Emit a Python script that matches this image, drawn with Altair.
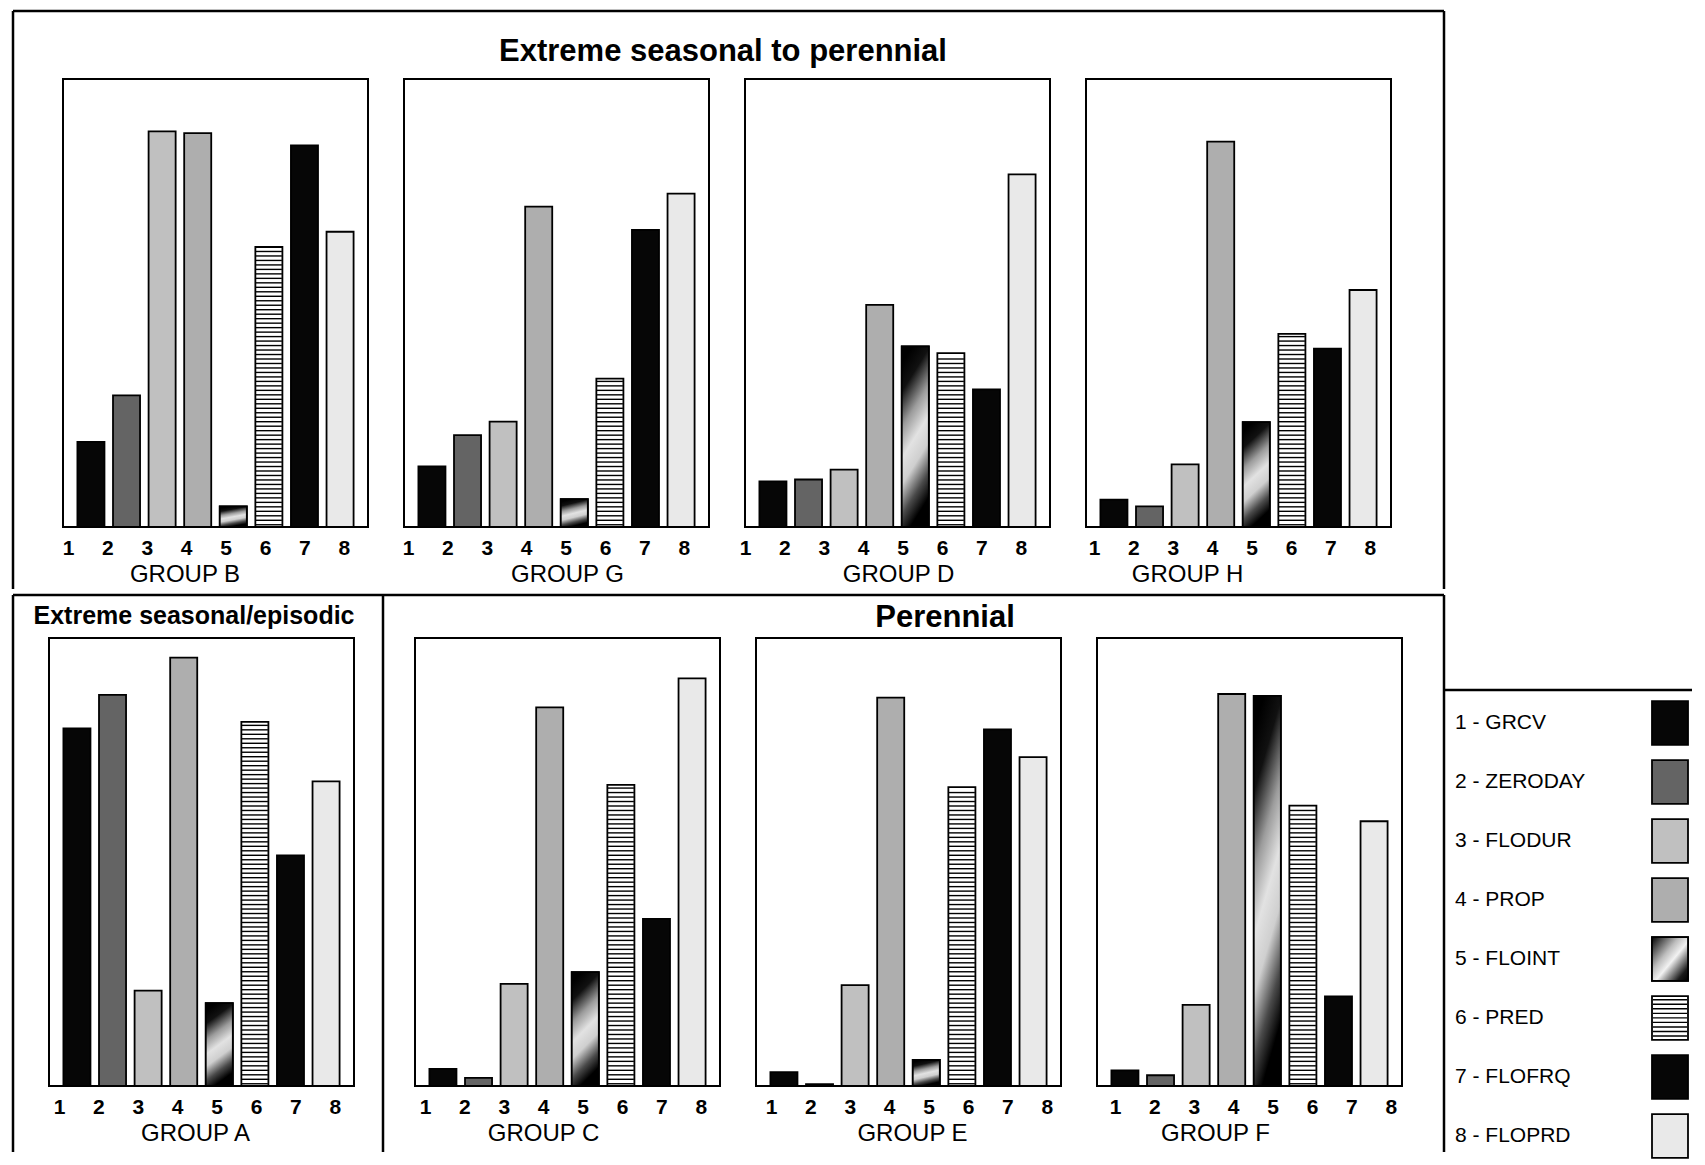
import altair as alt
import pandas as pd

FONT = "Liberation Sans"

# ---------------- data ----------------
codes = [1, 2, 3, 4, 5, 6, 7, 8]
names = ["GRCV", "ZERODAY", "FLODUR", "PROP", "FLOINT", "PRED", "FLOFRQ", "FLOPRD"]

group_B = [19.0, 29.4, 88.3, 87.9, 4.6, 62.5, 85.2, 65.9]
group_G = [13.5, 20.5, 23.5, 71.5, 6.2, 33.1, 66.3, 74.4]
group_D = [10.2, 10.6, 12.8, 49.6, 40.3, 38.8, 30.7, 78.7]
group_H = [6.1, 4.6, 14.0, 86.0, 23.4, 43.1, 39.8, 52.9]
group_A = [79.8, 87.3, 21.3, 95.6, 18.5, 81.3, 51.5, 68.0]
group_C = [3.8, 1.8, 22.8, 84.5, 25.4, 67.2, 37.3, 91.0]
group_E = [3.1, 0.4, 22.5, 86.7, 5.8, 66.7, 79.6, 73.4]
group_F = [3.5, 2.4, 18.1, 87.5, 87.1, 62.6, 20.0, 59.1]

title_top = "Extreme seasonal to perennial"
title_episodic = "Extreme seasonal/episodic"
title_perennial = "Perennial"

# ---------------- styles ----------------
tones = ["#060606", "#646464", "#c0c0c0", "#aeaeae", "#303030", "#ffffff", "#060606", "#e9e9e9"]
floint_fill = alt.LinearGradient(
    gradient="linear",
    stops=[
        alt.GradientStop(color="#000000", offset=0),
        alt.GradientStop(color="#111111", offset=0.15),
        alt.GradientStop(color="#9c9c9c", offset=0.34),
        alt.GradientStop(color="#e2e2e2", offset=0.5),
        alt.GradientStop(color="#cfcfcf", offset=0.64),
        alt.GradientStop(color="#4a4a4a", offset=0.8),
        alt.GradientStop(color="#000000", offset=0.93),
        alt.GradientStop(color="#000000", offset=1),
    ],
    x1=0.38, y1=0, x2=0.62, y2=1,
)
STROKE_W = 1.8
STRIPE_STEP = 1.0      # spacing of the horizontal PRED hatching, in value units

W, H = 305, 448
LBL_STEP = 39.4
code_str = [str(c) for c in codes]
fill_scale = alt.Scale(domain=names, range=tones)
one = pd.DataFrame({"k": [0]})
NOFRAME = alt.ViewBackground(stroke="transparent")


def panel(letter, values, lbl_start, title_x):
    df = pd.DataFrame({"code": code_str, "num": codes, "name": names, "value": values})
    base = alt.Chart(df)
    xb = alt.X("code:N", sort=code_str,
               scale=alt.Scale(domain=code_str, paddingInner=0.24, paddingOuter=0.405),
               axis=None)
    yscale = alt.Scale(domain=[0, 100], nice=False, zero=True)
    yv = alt.Y("value:Q", scale=yscale, axis=None)
    bars = base.mark_bar(stroke="black", strokeWidth=STROKE_W).encode(
        x=xb, y=yv, fill=alt.Fill("name:N", scale=fill_scale, legend=None))
    floint = base.transform_filter(alt.datum.name == "FLOINT").mark_bar(
        fill=floint_fill, stroke="black", strokeWidth=STROKE_W).encode(x=xb, y=yv)
    # horizontal hatching of PRED bars
    pred_val = values[names.index("PRED")]
    stripes = []
    k = 0
    while (k + 0.5) * STRIPE_STEP < pred_val - 0.4:
        stripes.append({"code": code_str[names.index("PRED")], "sy": (k + 0.5) * STRIPE_STEP})
        k += 1
    hatch = alt.Chart(pd.DataFrame(stripes)).mark_tick(
        orient="horizontal", size=26, thickness=1.4, color="black", opacity=1).encode(
        x=xb, y=alt.Y("sy:Q", scale=yscale, axis=None))
    d0 = 1 - lbl_start / LBL_STEP
    d1 = d0 + W / LBL_STEP
    labels = base.mark_point(opacity=0).encode(
        x=alt.X("num:Q", scale=alt.Scale(domain=[d0, d1], nice=False, zero=False),
                axis=alt.Axis(orient="bottom", values=codes, format="d", grid=False,
                              ticks=False, domain=False, labelFontSize=21,
                              labelFontWeight="bold", labelColor="black",
                              labelPadding=10, labelFlush=False, labelOverlap=False,
                              labelFont=FONT,
                              title=f"GROUP {letter}", titleFontSize=24,
                              titleFontWeight="normal", titleColor="black",
                              titleFont=FONT, titleX=title_x, titleY=47,
                              titleBaseline="middle", titleAlign="center")),
        y=yv)
    return alt.layer(alt.layer(bars, floint, hatch), labels).resolve_scale(
        x="independent").properties(width=W, height=H)


def gap(w):
    return alt.Chart(one).mark_point(opacity=0).encode(
        x=alt.value(0), y=alt.value(0)).properties(width=w, height=H, view=NOFRAME)


def seg(x1, y1, x2, y2):
    return alt.Chart(one).mark_rule(stroke="black", strokeWidth=2.5).encode(
        x=alt.value(x1), y=alt.value(y1), x2=alt.value(x2), y2=alt.value(y2))


def head(txt, x, y, size):
    return alt.Chart(one).mark_text(text=txt, fontSize=size, fontWeight="bold", font=FONT,
                                    align="center", baseline="alphabetic", color="black").encode(
        x=alt.value(x), y=alt.value(y))


pB = panel("B", group_B, 5, 121.5)
pG = panel("G", group_G, 4, 163)
pD = panel("D", group_D, 0, 153)
pH = panel("H", group_H, 8, 101)
pA = panel("A", group_A, 10, 146)
pC = panel("C", group_C, 10, 128)
pE = panel("E", group_E, 15, 156)
pF = panel("F", group_F, 18, 118)

# frame of the upper block + its heading (relative to this cell's origin)
deco_top = alt.layer(
    seg(-36, -68, 1395, -68),
    seg(-36, -68, -36, 510),
    seg(1395, -68, 1395, 510),
    head(title_top, 674, -18, 31),
).properties(width=14, height=H, view=NOFRAME)

# frames of the lower blocks + their headings (relative to this cell's origin)
deco_bottom = alt.layer(
    seg(-341, -43, 1090, -43),
    seg(-341, -43, -341, 514),
    seg(29, -43, 29, 514),
    seg(1090, -43, 1090, 514),
    seg(1090, 52, 1338, 52),
    head(title_episodic, -160, -14, 25),
    head(title_perennial, 591, -11, 31),
).properties(width=61, height=H, view=NOFRAME)

# ---------------- legend ----------------
leg_df = pd.DataFrame({"num": codes, "name": names,
                       "label": [f"{c} - {n}" for c, n in zip(codes, names)]})
SW_HALF = 0.37
ld0 = 1 - 85 / 59.0
ld1 = ld0 + H / 59.0
lscale = alt.Scale(domain=[ld0, ld1], nice=False, zero=False, reverse=True)
leg_base = alt.Chart(leg_df)
leg_text = leg_base.mark_text(align="left", baseline="middle", fontSize=21,
                              font=FONT, color="black").encode(
    x=alt.value(3), y=alt.Y("num:Q", scale=lscale, axis=None), text="label:N")
leg_sw = leg_base.transform_calculate(
    lo=f"datum.num - {SW_HALF}", hi=f"datum.num + {SW_HALF}").mark_rect(
    stroke="black", strokeWidth=STROKE_W).encode(
    x=alt.value(200), x2=alt.value(236),
    y=alt.Y("lo:Q", scale=lscale, axis=None), y2="hi:Q",
    fill=alt.Fill("name:N", scale=fill_scale, legend=None))
leg_sw5 = leg_base.transform_filter(alt.datum.name == "FLOINT").transform_calculate(
    lo=f"datum.num - {SW_HALF}", hi=f"datum.num + {SW_HALF}").mark_rect(
    fill=alt.LinearGradient(
        gradient="linear",
        stops=[alt.GradientStop(color="#000000", offset=0),
               alt.GradientStop(color="#bdbdbd", offset=0.38),
               alt.GradientStop(color="#f2f2f2", offset=0.55),
               alt.GradientStop(color="#1a1a1a", offset=0.85),
               alt.GradientStop(color="#000000", offset=1)],
        x1=0, y1=0, x2=1, y2=1),
    stroke="black", strokeWidth=STROKE_W).encode(
    x=alt.value(200), x2=alt.value(236),
    y=alt.Y("lo:Q", scale=lscale, axis=None), y2="hi:Q")
pred_num = codes[names.index("PRED")]
leg_stripes = pd.DataFrame({"sy": [pred_num - SW_HALF + 0.06 + 0.077 * i for i in range(9)]})
leg_hatch = alt.Chart(leg_stripes).mark_rule(color="black", strokeWidth=1.4).encode(
    x=alt.value(201), x2=alt.value(235), y=alt.Y("sy:Q", scale=lscale, axis=None))
legend = alt.layer(leg_text, leg_sw, leg_sw5, leg_hatch).properties(
    width=240, height=H, view=NOFRAME)

# ---------------- layout ----------------
top_row = alt.hconcat(deco_top, pB, gap(36), pG, gap(36), pD, gap(36), pH,
                      spacing=0, bounds="flush")
bottom_row = alt.hconcat(pA, deco_bottom, pC, gap(36), pE, gap(36), pF, gap(50), legend,
                         spacing=0, bounds="flush")

chart = alt.vconcat(top_row, bottom_row, spacing=0).properties(
    padding={"left": 2, "top": 0, "right": 0, "bottom": 0},
    background="white",
).configure(font=FONT).configure_view(stroke="black", strokeWidth=2)

chart.save("out.html", embed_options={"renderer": "svg", "actions": False})
